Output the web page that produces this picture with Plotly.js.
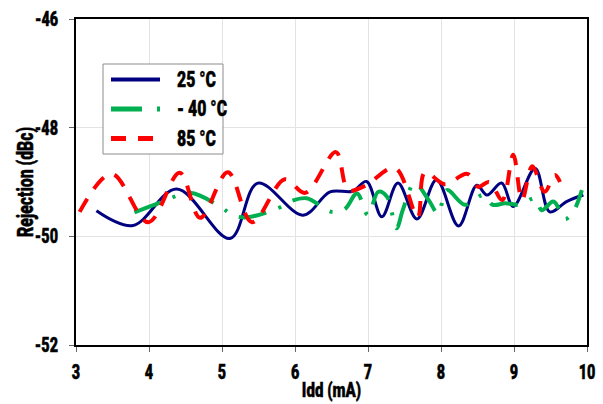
<!DOCTYPE html>
<html><head><meta charset="utf-8">
<script src="https://cdn.plot.ly/plotly-3.0.1.min.js"></script>
<style>html,body{margin:0;padding:0;background:#fff}#chart{width:603px;height:404px}</style>
</head><body><div id="chart"></div>
<script>
const seriesNames = ["25 °C", "- 40 °C", "85 °C"];
const x25 = [3.28, 3.78, 4.38, 5.11, 5.49, 6.11, 6.48, 6.79, 6.98, 7.19, 7.41, 7.67, 7.94, 8.24, 8.49, 8.63, 8.83, 8.99, 9.29, 9.49, 9.72, 9.95];
const y25 = [-49.53, -49.80, -49.13, -50.04, -49.02, -49.61, -49.18, -49.17, -48.99, -49.64, -49.02, -49.68, -48.96, -49.81, -49.06, -49.24, -49.02, -49.45, -48.75, -49.55, -49.36, -49.24];
const xm40 = [3.80, 4.19, 4.56, 4.97, 5.15, 5.34, 5.77, 5.95, 6.16, 6.50, 6.68, 6.85, 7.00, 7.14, 7.26, 7.39, 7.48, 7.64, 7.83, 7.96, 8.08, 8.33, 8.58, 8.71, 8.88, 9.08, 9.29, 9.38, 9.54, 9.70, 9.81, 9.93];
const ym40 = [-49.56, -49.36, -49.20, -49.45, -49.61, -49.65, -49.48, -49.35, -49.30, -49.55, -49.50, -49.21, -49.61, -49.18, -49.27, -49.85, -49.50, -49.02, -49.33, -49.58, -49.15, -49.42, -49.24, -49.42, -49.39, -49.42, -49.30, -49.52, -49.36, -49.68, -49.55, -49.15];
const x85 = [3.05, 3.49, 3.99, 4.42, 4.70, 5.08, 5.41, 5.86, 6.14, 6.56, 6.73, 6.96, 7.37, 7.68, 7.78, 8.05, 8.36, 8.51, 8.66, 8.84, 8.99, 9.11, 9.25, 9.42, 9.56, 9.63];
const y85 = [-49.55, -48.85, -49.74, -48.83, -49.66, -48.82, -49.74, -48.95, -49.20, -48.45, -49.15, -49.07, -48.74, -49.65, -48.82, -49.04, -48.85, -49.09, -49.00, -49.33, -48.50, -49.33, -48.71, -49.18, -48.87, -49.00];
const xTicks = [3, 4, 5, 6, 7, 8, 9, 10];
const yTicks = [-52, -50, -48, -46];

const FONT = 'Roboto, "Open Sans", sans-serif';
const W = 900;
const COLORS = ['#000080', '#00b050', '#ff0000'];
const DASHES = ['solid', '28px,13px,3px,13px', '15px,12px'];
const WIDTHS = [3, 4, 4];

const traces = [
  {x: x25, y: y25, name: seriesNames[0], mode: 'lines', line: {color: COLORS[0], width: WIDTHS[0], shape: 'spline', smoothing: 1, dash: DASHES[0]}},
  {x: xm40, y: ym40, name: seriesNames[1], mode: 'lines', line: {color: COLORS[1], width: WIDTHS[1], shape: 'spline', smoothing: 1, dash: DASHES[1]}},
  {x: x85, y: y85, name: seriesNames[2], mode: 'lines', line: {color: COLORS[2], width: WIDTHS[2], shape: 'spline', smoothing: 1, dash: DASHES[2]}}
];

// manual legend (pixel layout of the plot area: x 76..587, y 19..345)
const PL = 76, PR = 587, PT = 19, PB = 345;
const px = v => (v - PL) / (PR - PL);
const py = v => (PB - v) / (PB - PT);
const rowY = [79.5, 109, 138.5];
const shapes = [
  {type: 'rect', xref: 'paper', yref: 'paper', x0: px(103), x1: px(223), y0: py(154), y1: py(64),
   line: {color: '#8c8c8c', width: 1}, fillcolor: '#fff', layer: 'above'}
];
const annotations = [];
seriesNames.forEach((n, i) => {
  shapes.push({type: 'line', xref: 'paper', yref: 'paper', x0: px(111), x1: px(160), y0: py(rowY[i]), y1: py(rowY[i]),
    line: {color: COLORS[i], width: WIDTHS[i] + 1, dash: i === 1 ? '31px,15px,3px,15px' : DASHES[i]}, layer: 'above'});
  annotations.push({xref: 'paper', yref: 'paper', x: px(175), y: py(rowY[i]), xanchor: 'left', yanchor: 'middle',
    text: n, showarrow: false, font: {family: FONT, size: 22, color: '#000', weight: W}});
});

const axisCommon = {
  showline: true, linecolor: '#000', linewidth: 2, mirror: true,
  showgrid: true, gridcolor: '#e3e3e3', gridwidth: 1, zeroline: false,
  ticks: 'outside', ticklen: 5, tickcolor: '#666', tickwidth: 1,
  tickfont: {family: FONT, size: 20, color: '#000', weight: W}
};
const layout = {
  width: 603, height: 404,
  margin: {l: PL, r: 603 - PR, t: PT, b: 404 - PB},
  paper_bgcolor: '#fff', plot_bgcolor: '#fff',
  showlegend: false,
  shapes: shapes, annotations: annotations,
  xaxis: Object.assign({}, axisCommon, {range: [3, 10], tickvals: xTicks, ticktext: xTicks.map(String), ticklabelstandoff: 3,
    title: {text: 'Idd (mA)', standoff: 0, font: {family: FONT, size: 21, color: '#000', weight: W}}}),
  yaxis: Object.assign({}, axisCommon, {range: [-52, -46], tickvals: yTicks, ticktext: yTicks.map(String), ticklabelstandoff: 7,
    title: {text: 'Rejection (dBc)', standoff: 6, font: {family: FONT, size: 22, color: '#000', weight: W}}})
};

function condense(gd, s) {
  gd.querySelectorAll('svg text').forEach(t => {
    if (!t.textContent) return;
    const bb = t.getBBox();
    const anchor = t.getAttribute('text-anchor') || 'start';
    let ax;
    if (t.classList.contains('annotation-text')) ax = bb.x;
    else if (anchor === 'middle') ax = bb.x + bb.width / 2;
    else if (anchor === 'end') ax = bb.x + bb.width;
    else ax = bb.x;
    const ay = bb.y + bb.height / 2;
    const tr = t.getAttribute('transform') || '';
    t.setAttribute('transform', tr + ' translate(' + ax + ',' + ay + ') scale(' + s + ',1) translate(' + (-ax) + ',' + (-ay) + ')');
    t.style.stroke = '#000';
    t.style.strokeWidth = '0.5px';
  });
}
function placeTitle(gd, sel, cx, cy) {
  const t = gd.querySelector(sel);
  if (!t) return;
  const r = t.getBoundingClientRect();
  const dx = cx === null ? 0 : cx - (r.left + r.width / 2);
  const dy = cy === null ? 0 : cy - (r.top + r.height / 2);
  t.setAttribute('transform', 'translate(' + dx + ',' + dy + ') ' + (t.getAttribute('transform') || ''));
}

Plotly.newPlot('chart', traces, layout, {displayModeBar: false, staticPlot: true}).then(gd => {
  condense(gd, 0.72);
  placeTitle(gd, 'text.ytitle', 26, 182);
  placeTitle(gd, 'text.xtitle', null, 390);
});
</script></body></html>
